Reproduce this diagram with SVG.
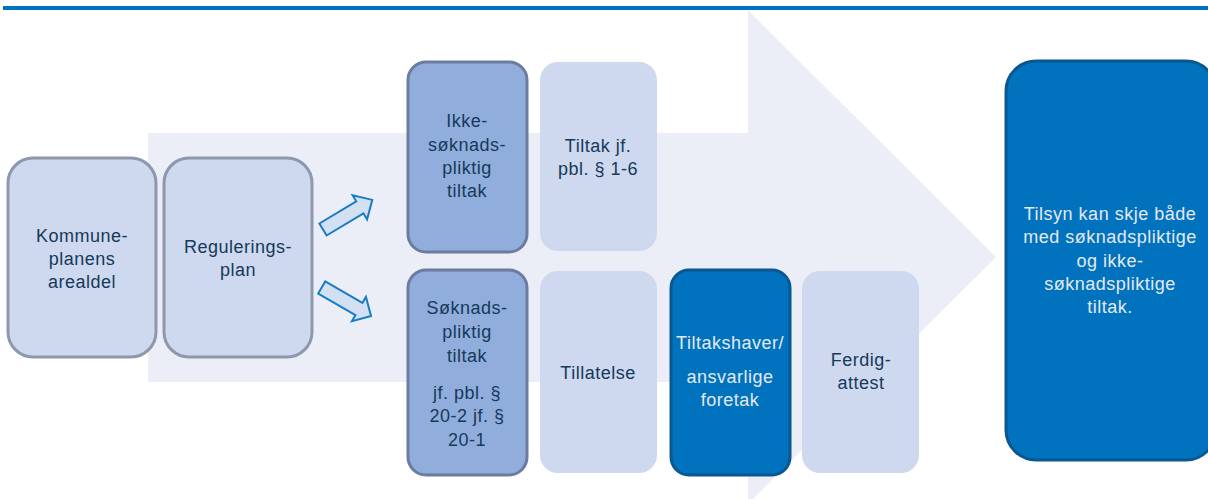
<svg xmlns="http://www.w3.org/2000/svg" width="1208" height="499" viewBox="0 0 1208 499">
<style>
.t{font-family:"Liberation Sans",Arial,sans-serif;font-size:18px;letter-spacing:0.5px;text-anchor:middle;fill:#153A5A}
.w{fill:#E4E9F1}
.light{fill:#CED8EE}
.lightS{fill:#CED8EE;stroke:#8E98AC;stroke-width:3}
.mid{fill:#91ADDC;stroke:#6B7C9E;stroke-width:3}
.dark{fill:#0072BE;stroke:#0B5790;stroke-width:3}
.arr{fill:#D3E0F2;stroke:#1A7CC4;stroke-width:2;stroke-linejoin:miter}
</style>
<rect width="1208" height="499" fill="#FFFFFF"/>
<rect x="3" y="6" width="1205" height="4" fill="#0072BE"/>
<polygon points="148,133 748,133 748,10 996,257 748,504 748,382 148,382" fill="#EBEEF7"/>
<g id="connectors">
<polygon class="arr" transform="translate(323,229.5) rotate(-31)" points="0,-7 43,-7 43,-14 57.5,0 43,14 43,7 0,7"/>
<polygon class="arr" transform="translate(321.7,287.5) rotate(30)" points="0,-7 43,-7 43,-14 57,0 43,14 43,7 0,7"/>
</g>
<g id="kommuneplan">
<rect class="lightS" x="8" y="158" width="148" height="199" rx="25"/>
<text class="t" x="82" y="242">Kommune-</text>
<text class="t" x="82" y="265">planens</text>
<text class="t" x="82" y="288">arealdel</text>
</g>
<g id="reguleringsplan">
<rect class="lightS" x="164" y="158" width="148" height="199" rx="25"/>
<text class="t" x="238" y="253">Regulerings-</text>
<text class="t" x="238" y="276">plan</text>
</g>
<g id="ikke-soknadspliktig">
<rect class="mid" x="408" y="62" width="119" height="190" rx="18"/>
<text class="t" x="467" y="127">Ikke-</text>
<text class="t" x="467" y="151">søknads-</text>
<text class="t" x="467" y="174">pliktig</text>
<text class="t" x="467" y="197">tiltak</text>
</g>
<g id="tiltak-1-6">
<rect class="light" x="540" y="62" width="117" height="189" rx="18"/>
<text class="t" x="598" y="152">Tiltak jf.</text>
<text class="t" x="598" y="175">pbl. § 1-6</text>
</g>
<g id="soknadspliktig">
<rect class="mid" x="408" y="270" width="119" height="205" rx="18"/>
<text class="t" x="467" y="314">Søknads-</text>
<text class="t" x="467" y="338">pliktig</text>
<text class="t" x="467" y="362">tiltak</text>
<text class="t" x="467" y="399">jf. pbl. §</text>
<text class="t" x="467" y="422">20-2 jf. §</text>
<text class="t" x="467" y="446">20-1</text>
</g>
<g id="tillatelse">
<rect class="light" x="540" y="271" width="117" height="202" rx="18"/>
<text class="t" x="598" y="379">Tillatelse</text>
</g>
<g id="tiltakshaver">
<rect class="dark" x="671" y="270" width="119" height="205" rx="18"/>
<text class="t w" x="730" y="349">Tiltakshaver/</text>
<text class="t w" x="730" y="383">ansvarlige</text>
<text class="t w" x="730" y="406">foretak</text>
</g>
<g id="ferdigattest">
<rect class="light" x="802" y="271" width="117" height="202" rx="18"/>
<text class="t" x="861" y="366">Ferdig-</text>
<text class="t" x="861" y="389">attest</text>
</g>
<g id="tilsyn">
<rect class="dark" x="1006" y="61" width="210" height="399" rx="30"/>
<text class="t w" x="1110" y="220">Tilsyn kan skje både</text>
<text class="t w" x="1110" y="243">med søknadspliktige</text>
<text class="t w" x="1110" y="267">og ikke-</text>
<text class="t w" x="1110" y="290">søknadspliktige</text>
<text class="t w" x="1110" y="313">tiltak.</text>
</g>
</svg>
